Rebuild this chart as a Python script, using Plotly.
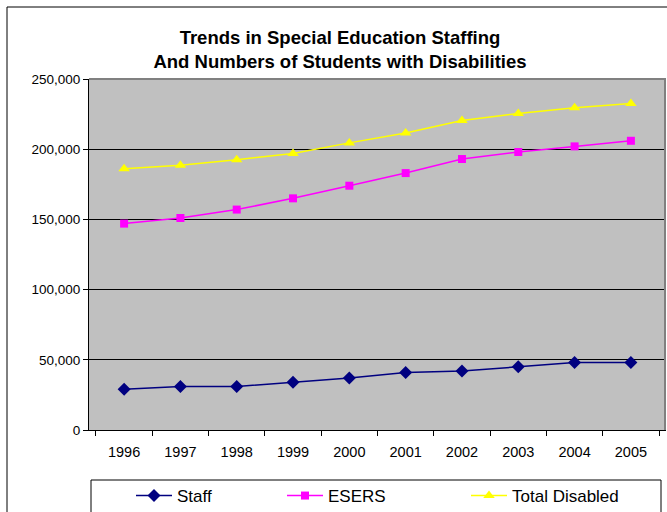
import plotly.graph_objects as go

years = ["1996", "1997", "1998", "1999", "2000", "2001", "2002", "2003", "2004", "2005"]
staff = [29000, 31000, 31000, 34000, 37000, 41000, 42000, 45000, 48000, 48000]
esers = [147000, 151000, 157000, 165000, 174000, 183000, 193000, 198000, 202000, 206000]
total_disabled = [186000, 188500, 192500, 197000, 204500, 211500, 220500, 225500, 229500, 232500]
y_ticks = [0, 50000, 100000, 150000, 200000, 250000]

W, H = 667, 512
L, R, T, B = 89, 666, 79, 430
pw, ph = R - L, B - T

def px(x):
    return (x - L) / pw

def py(y):
    return (B - y) / ph

FONT = "Arial, Liberation Sans, sans-serif"

fig = go.Figure()
fig.add_trace(go.Scatter(x=years, y=staff, name="Staff", mode="lines+markers",
                         line=dict(color="#000080", width=1.5),
                         marker=dict(symbol="diamond", size=10, color="#000080"),
                         legend="legend"))
fig.add_trace(go.Scatter(x=years, y=esers, name="ESERS", mode="lines+markers",
                         line=dict(color="#FF00FF", width=1.5),
                         marker=dict(symbol="square", size=8, color="#FF00FF"),
                         legend="legend2"))
fig.add_trace(go.Scatter(x=years, y=total_disabled, name="Total Disabled", mode="lines+markers",
                         line=dict(color="#FFFF00", width=1.5),
                         marker=dict(symbol="triangle-up", size=10, color="#FFFF00"),
                         legend="legend3"))

leg_common = dict(orientation="h", yanchor="middle", xanchor="left", bgcolor="rgba(0,0,0,0)",
                  xref="container", yref="container",
                  borderwidth=0, itemwidth=36, font=dict(family=FONT, size=17, color="black"))

fig.update_layout(
    width=W, height=H,
    showlegend=True,
    margin=dict(l=L, r=W - R, t=T, b=H - B, autoexpand=False),
    paper_bgcolor="white",
    plot_bgcolor="#C0C0C0",
    font=dict(family=FONT, size=13, color="black"),
    title=dict(text="<b>Trends in Special Education Staffing<br>And Numbers of Students with Disabilities</b>",
               x=(340) / W, xanchor="center", y=1 - 44 / H, yanchor="middle",
               font=dict(family=FONT, size=18.5, color="black")),
    xaxis=dict(type="category", showline=True, linecolor="black", linewidth=1,
               ticks="outside", tickson="boundaries", ticklen=5, tickcolor="black",
               ticklabelstandoff=9,
               showgrid=False, tickfont=dict(size=14.5), fixedrange=True),
    yaxis=dict(range=[0, 250000], tickvals=y_ticks, tickformat=",", showline=True,
               linecolor="black", linewidth=1, ticks="outside", ticklen=5, tickcolor="black",
               showgrid=True, gridcolor="black", gridwidth=1, zeroline=False,
               tickfont=dict(size=13.5)),
    legend=dict(x=131 / W, y=1 - 496 / H, **leg_common),
    legend2=dict(x=282 / W, y=1 - 496 / H, **leg_common),
    legend3=dict(x=466 / W, y=1 - 496 / H, **leg_common),
    shapes=[
        dict(type="rect", xref="paper", yref="paper", x0=px(7), x1=px(700), y0=py(540), y1=py(7),
             line=dict(color="black", width=1), fillcolor="rgba(0,0,0,0)", layer="below"),
        dict(type="line", xref="paper", yref="paper", x0=0, x1=1, y0=1, y1=1,
             line=dict(color="#808080", width=2), layer="above"),
        dict(type="line", xref="paper", yref="paper", x0=px(665), x1=px(665), y0=0, y1=1,
             line=dict(color="#808080", width=2), layer="above"),
        dict(type="rect", xref="paper", yref="paper", x0=px(91), x1=px(661), y0=py(540), y1=py(480),
             line=dict(color="black", width=1), fillcolor="white", layer="below"),
    ],
)

fig.write_html("out.html")
